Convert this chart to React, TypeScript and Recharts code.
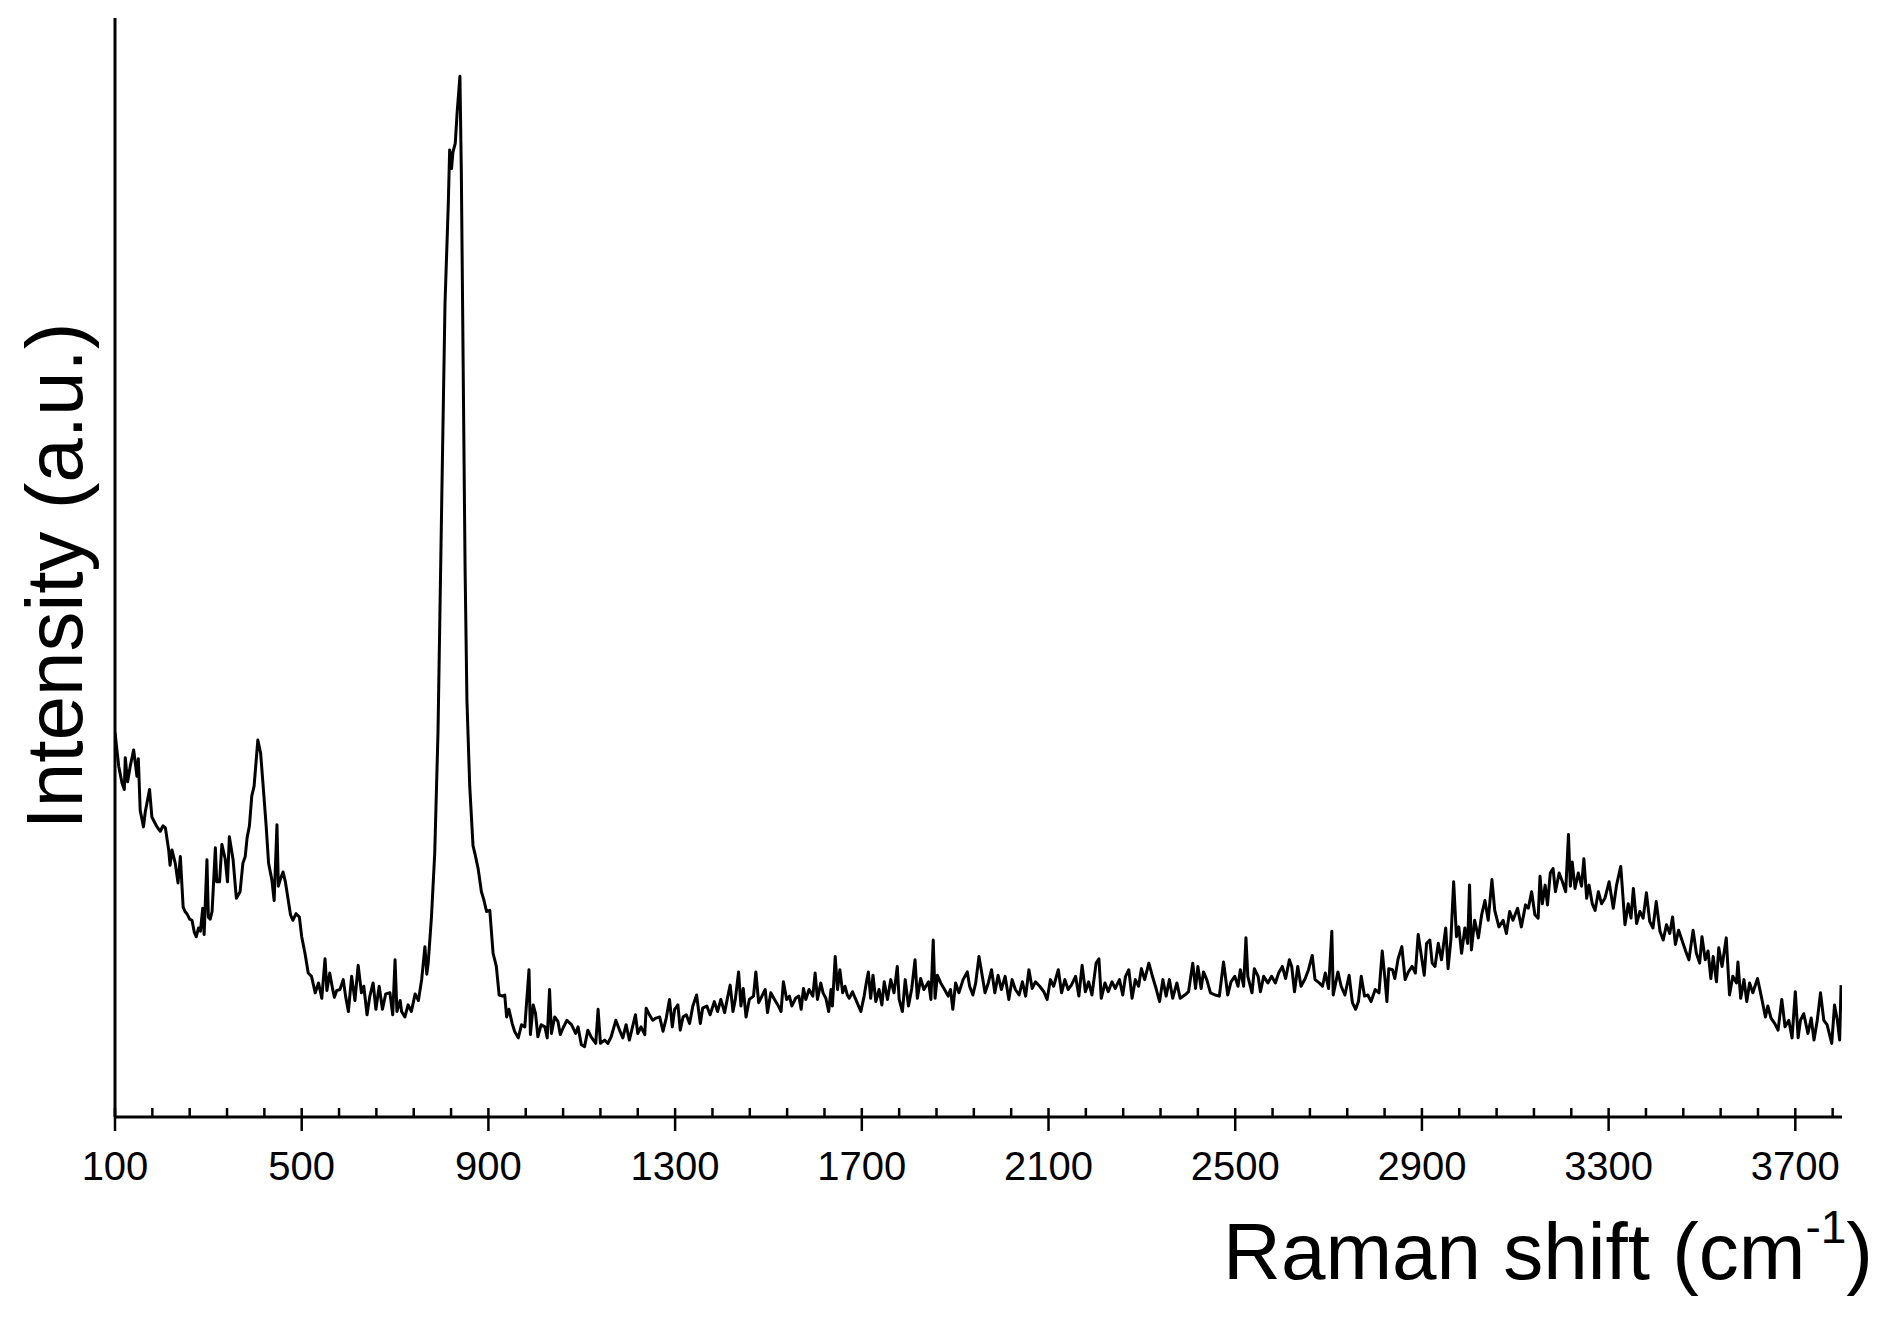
import { LineChart, Line, XAxis, YAxis, Label } from 'recharts';

const FONT = 'Arial, "Liberation Sans", Helvetica, sans-serif';

// low-frequency region, 100-778 cm-1
const shiftLow = [
  100, 108, 115, 120, 122, 127, 133, 140, 147, 150,
  154, 161, 165, 174, 179, 185, 190, 197, 203, 208,
  215, 218, 222, 229, 235, 240, 246, 250, 254, 260,
  265, 270, 274, 279, 283, 288, 291, 297, 300, 304,
  308, 315, 318, 324, 329, 336, 341, 345, 353, 360,
  368, 374, 379, 383, 388, 393, 398, 406, 412, 418,
  424, 429, 436, 441, 447, 450, 454, 460, 465, 472,
  476, 481, 488, 495, 500, 507, 514, 521, 529, 536,
  543, 550, 554, 560, 566, 570, 575, 582, 589, 594,
  600, 607, 614, 621, 628, 633, 640, 646, 653, 659,
  666, 673, 680, 689, 695, 700, 704, 711, 714, 721,
  728, 735, 743, 750, 757, 764, 768, 771, 778,
];
const intensityLow = [
  35.0, 31.9, 30.4, 29.8, 32.7, 30.5, 32.0, 33.4, 31.0, 32.6,
  27.9, 26.4, 27.8, 29.8, 27.3, 26.8, 26.4, 26.0, 26.5, 26.3,
  24.3, 22.9, 24.3, 23.1, 21.3, 23.7, 19.1, 18.7, 18.5, 18.0,
  17.9, 16.8, 16.4, 17.2, 16.9, 19.0, 16.6, 23.4, 18.2, 18.0,
  18.7, 24.5, 21.4, 21.4, 24.8, 23.5, 21.4, 25.5, 23.4, 19.9,
  20.5, 23.1, 23.7, 25.4, 26.5, 29.2, 30.1, 34.3, 33.1, 29.8,
  26.4, 23.1, 21.6, 19.7, 26.6, 21.0, 21.6, 22.3, 21.4, 19.5,
  18.4, 17.9, 18.5, 18.2, 16.4, 14.9, 13.1, 12.8, 11.3, 12.2,
  10.8, 14.4, 11.5, 13.1, 11.7, 10.9, 11.5, 11.6, 12.5, 11.0,
  9.6, 12.8, 10.6, 13.8, 11.3, 11.9, 9.3, 11.0, 12.2, 9.8,
  11.9, 9.8, 11.2, 11.3, 9.3, 14.3, 9.6, 10.6, 9.6, 9.1,
  10.2, 9.6, 11.2, 10.6, 12.5, 15.5, 13.0, 14.0, 18.2,
];

// main band around 840 cm-1
const shiftPeak = [
  785, 792, 800, 807, 814, 817, 821, 824, 829, 833,
  839, 842, 846, 850, 854, 860, 867, 872, 878, 885,
  890, 896,
];
const intensityPeak = [
  24.0, 35.0, 56.0, 74.0, 83.0, 88.0, 86.3, 87.8, 88.6, 91.4,
  94.7, 86.0, 68.0, 50.0, 37.9, 30.1, 24.7, 23.8, 22.6, 20.5,
  19.8, 18.7,
];

// 903-1669 cm-1
const shiftMidA = [
  903, 910, 917, 923, 930, 935, 939, 944, 951, 956,
  964, 971, 978, 987, 990, 996, 1001, 1006, 1013, 1021,
  1026, 1031, 1035, 1042, 1049, 1054, 1060, 1068, 1078, 1087,
  1092, 1099, 1106, 1113, 1120, 1130, 1135, 1140, 1149, 1156,
  1163, 1173, 1181, 1188, 1195, 1202, 1215, 1220, 1227, 1235,
  1238, 1245, 1252, 1259, 1267, 1274, 1281, 1288, 1294, 1299,
  1306, 1311, 1317, 1324, 1331, 1338, 1346, 1354, 1359, 1368,
  1375, 1384, 1391, 1398, 1406, 1413, 1418, 1424, 1429, 1436,
  1441, 1446, 1452, 1459, 1468, 1473, 1479, 1486, 1493, 1498,
  1505, 1513, 1520, 1527, 1532, 1539, 1545, 1550, 1558, 1565,
  1570, 1575, 1580, 1587, 1595, 1600, 1605, 1612, 1617, 1623,
  1629, 1634, 1637, 1643, 1648, 1653, 1659, 1664, 1669,
];
const intensityMidA = [
  18.8, 14.9, 13.7, 11.1, 11.0, 11.1, 9.1, 9.8, 8.5, 7.8,
  7.2, 8.4, 8.2, 13.4, 7.5, 10.2, 9.4, 7.3, 8.4, 8.2,
  7.2, 11.6, 7.6, 9.1, 8.7, 7.5, 8.1, 8.8, 8.4, 7.6,
  8.2, 6.6, 6.4, 7.9, 7.3, 6.7, 9.8, 6.7, 7.0, 6.7,
  7.3, 8.8, 7.9, 7.2, 8.4, 7.0, 9.3, 7.6, 8.2, 7.5,
  9.9, 9.3, 8.8, 9.0, 9.1, 7.8, 9.0, 10.7, 8.2, 9.8,
  10.2, 7.9, 9.1, 9.3, 8.5, 10.1, 11.1, 8.5, 9.9, 10.1,
  9.3, 10.5, 9.6, 10.7, 9.5, 11.0, 12.0, 9.6, 10.7, 13.2,
  10.1, 11.7, 9.1, 10.7, 11.0, 13.2, 10.4, 11.0, 11.6, 9.5,
  11.3, 10.7, 10.2, 9.6, 12.3, 10.7, 11.0, 10.1, 10.8, 11.0,
  9.8, 11.7, 10.7, 11.6, 11.0, 13.1, 10.7, 12.2, 11.3, 10.8,
  9.6, 11.6, 10.1, 14.6, 11.6, 13.4, 11.3, 11.9, 11.1,
];

// 1673-2457 cm-1
const shiftMidB = [
  1673, 1680, 1687, 1698, 1705, 1710, 1714, 1719, 1724, 1730,
  1737, 1743, 1748, 1755, 1762, 1769, 1776, 1780, 1787, 1793,
  1800, 1807, 1814, 1819, 1826, 1833, 1843, 1848, 1853, 1857,
  1862, 1869, 1876, 1885, 1890, 1895, 1901, 1908, 1917, 1926,
  1931, 1938, 1944, 1951, 1957, 1964, 1971, 1978, 1985, 1992,
  1999, 2007, 2015, 2022, 2029, 2037, 2044, 2051, 2058, 2065,
  2072, 2081, 2090, 2097, 2104, 2111, 2121, 2128, 2135, 2142,
  2149, 2158, 2165, 2172, 2179, 2186, 2193, 2202, 2208, 2213,
  2221, 2228, 2236, 2243, 2252, 2259, 2265, 2272, 2279, 2286,
  2293, 2299, 2306, 2315, 2322, 2329, 2338, 2345, 2352, 2359,
  2366, 2375, 2382, 2392, 2400, 2409, 2415, 2420, 2427, 2432,
  2439, 2447, 2457,
];
const intensityMidB = [
  10.8, 11.4, 10.7, 9.6, 11.0, 12.3, 13.2, 10.8, 12.9, 10.5,
  11.6, 10.2, 12.3, 10.7, 12.5, 11.3, 13.7, 10.7, 9.6, 12.5,
  10.1, 11.7, 14.3, 10.8, 12.6, 11.6, 12.3, 10.7, 16.1, 10.8,
  12.9, 12.2, 11.7, 11.0, 11.6, 9.8, 12.2, 11.3, 12.5, 13.2,
  11.9, 11.1, 12.2, 14.6, 13.1, 11.3, 12.2, 13.4, 11.3, 12.9,
  11.6, 12.8, 10.7, 12.5, 11.6, 11.1, 12.3, 11.0, 13.4, 11.7,
  12.3, 11.9, 11.4, 10.7, 12.5, 11.9, 13.4, 11.3, 12.5, 11.6,
  12.0, 12.8, 11.0, 13.8, 11.4, 12.3, 11.1, 14.0, 14.4, 10.8,
  12.2, 11.4, 12.3, 11.7, 12.5, 11.1, 12.8, 13.4, 10.8, 12.5,
  11.9, 13.5, 12.5, 14.0, 12.9, 11.9, 10.5, 12.5, 11.0, 12.5,
  10.8, 12.2, 10.8, 11.1, 11.4, 14.0, 11.7, 13.7, 11.7, 13.2,
  12.5, 11.3, 11.1,
];

// 2466-3122 cm-1
const shiftHigh = [
  2466, 2475, 2484, 2491, 2499, 2506, 2511, 2518, 2523, 2527,
  2536, 2541, 2549, 2554, 2561, 2570, 2578, 2586, 2593, 2601,
  2608, 2616, 2621, 2627, 2634, 2641, 2650, 2657, 2665, 2671,
  2680, 2687, 2693, 2700, 2707, 2710, 2720, 2727, 2735, 2744,
  2751, 2758, 2764, 2770, 2777, 2784, 2791, 2800, 2808, 2815,
  2821, 2825, 2829, 2837, 2842, 2849, 2857, 2864, 2871, 2879,
  2886, 2892, 2898, 2905, 2910, 2917, 2922, 2928, 2935, 2942,
  2951, 2956, 2962, 2968, 2974, 2979, 2985, 2992, 2998, 3002,
  3006, 3013, 3021, 3028, 3035, 3042, 3050, 3056, 3065, 3074,
  3081, 3088, 3095, 3105, 3113, 3122,
];
const intensityHigh = [
  11.0, 14.1, 11.1, 12.3, 12.8, 11.9, 13.4, 11.9, 16.3, 12.8,
  11.3, 13.5, 12.8, 11.4, 12.8, 12.2, 12.8, 12.2, 13.1, 13.7,
  12.6, 14.3, 13.7, 11.4, 13.7, 11.9, 12.6, 13.4, 14.7, 12.5,
  12.2, 11.9, 13.1, 11.7, 16.9, 11.1, 13.2, 11.9, 11.1, 12.9,
  10.4, 9.8, 10.5, 12.8, 11.0, 11.1, 10.5, 11.6, 11.3, 15.1,
  12.5, 10.5, 13.5, 13.4, 12.6, 14.4, 15.5, 12.5, 13.2, 13.7,
  13.1, 16.6, 14.9, 12.9, 15.8, 16.1, 14.0, 13.7, 15.8, 14.3,
  17.2, 13.5, 16.1, 21.4, 16.4, 17.3, 14.9, 17.2, 15.8, 21.1,
  15.2, 17.9, 16.3, 18.4, 19.7, 17.9, 21.6, 18.8, 17.3, 17.9,
  16.7, 18.7, 17.9, 19.0, 17.3, 19.3,
];

// O-H stretching band, 3128-3798 cm-1
const shiftOH = [
  3128, 3135, 3142, 3149, 3153, 3158, 3164, 3169, 3175, 3181,
  3186, 3194, 3201, 3208, 3214, 3218, 3222, 3228, 3235, 3242,
  3247, 3253, 3258, 3265, 3271, 3278, 3285, 3292, 3301, 3310,
  3317, 3326, 3335, 3342, 3348, 3353, 3360, 3367, 3374, 3381,
  3388, 3395, 3402, 3410, 3417, 3424, 3431, 3437, 3443, 3450,
  3457, 3465, 3472, 3481, 3488, 3495, 3500, 3507, 3513, 3519,
  3524, 3531, 3536, 3543, 3552, 3559, 3566, 3574, 3577, 3583,
  3590, 3596, 3602, 3609, 3619, 3627, 3636, 3641, 3648, 3656,
  3663, 3671, 3678, 3686, 3693, 3700, 3706, 3711, 3718, 3727,
  3734, 3740, 3747, 3754, 3761, 3768, 3778, 3784, 3790, 3795,
  3798,
];
const intensityOH = [
  19.0, 20.5, 18.4, 18.1, 21.9, 19.4, 21.1, 19.3, 22.2, 22.6,
  20.5, 22.2, 21.4, 20.5, 25.7, 21.0, 23.2, 20.8, 22.2, 21.0,
  23.5, 19.9, 21.1, 19.4, 18.8, 20.5, 19.4, 19.9, 21.4, 19.0,
  21.1, 22.8, 17.5, 19.4, 18.1, 20.8, 17.6, 18.7, 18.1, 20.4,
  17.8, 17.2, 19.6, 16.9, 16.1, 17.5, 16.7, 18.2, 15.7, 17.0,
  16.1, 15.1, 14.3, 17.0, 14.9, 14.0, 16.4, 14.3, 15.1, 12.6,
  14.6, 12.3, 15.4, 13.7, 16.3, 11.1, 12.8, 12.2, 14.1, 10.8,
  12.5, 10.5, 12.2, 11.3, 12.6, 11.0, 9.1, 10.1, 9.0, 8.5,
  7.9, 10.7, 8.2, 8.8, 7.2, 11.4, 7.2, 8.8, 9.4, 7.6,
  9.0, 7.0, 8.8, 11.3, 8.8, 8.4, 6.7, 10.2, 8.8, 7.0,
  12.0,
];

const majorTicks = [100, 500, 900, 1300, 1700, 2100, 2500, 2900, 3300, 3700];
const minorTicks = [
  180, 260, 340, 420, 580, 660, 740, 820, 980, 1060, 1140, 1220,
  1380, 1460, 1540, 1620, 1780, 1860, 1940, 2020, 2180, 2260, 2340, 2420,
  2580, 2660, 2740, 2820, 2980, 3060, 3140, 3220, 3380, 3460, 3540, 3620, 3780,
];
const allTicks = [...majorTicks, ...minorTicks].sort((a, b) => a - b);

const segments: [number[], number[]][] = [
  [shiftLow, intensityLow],
  [shiftPeak, intensityPeak],
  [shiftMidA, intensityMidA],
  [shiftMidB, intensityMidB],
  [shiftHigh, intensityHigh],
  [shiftOH, intensityOH],
];
const spectrum = segments.flatMap(([xs, ys]) =>
  xs.map((shift, i) => ({ shift, intensity: ys[i] })),
);

function ShiftTick(props: any) {
  const { x, y, payload } = props;
  const major = majorTicks.includes(payload.value);
  return (
    <g>
      <line x1={x} x2={x} y1={y - 9} y2={major ? y + 14 : y} stroke="#000" strokeWidth={2.5} />
      {major && (
        <text x={x} y={y + 63} textAnchor="middle" fontSize={40} fontFamily={FONT} fill="#000">
          {payload.value}
        </text>
      )}
    </g>
  );
}

function XTitle() {
  return (
    <text x={1865} y={1271} textAnchor="end" fontSize={80} fontFamily={FONT} fill="#000">
      Raman shift (cm
      <tspan fontSize={46} dy={-36}>-1</tspan>
      <tspan dy={36}>)</tspan>
    </text>
  );
}

function YTitle() {
  return (
    <text
      x={74}
      y={568}
      transform="rotate(-90 74 568)"
      textAnchor="middle"
      fontSize={80}
      fontFamily={FONT}
      fill="#000"
    >
      Intensity (a.u.)
    </text>
  );
}

export default function App() {
  return (
    <LineChart
      width={1876}
      height={1300}
      data={spectrum}
      margin={{ top: 10, right: 42, bottom: 0, left: 0 }}
    >
      <XAxis
        type="number"
        dataKey="shift"
        domain={[100, 3800]}
        ticks={allTicks}
        interval={0}
        tickSize={0}
        tickMargin={0}
        tickLine={false}
        tick={ShiftTick}
        axisLine={{ stroke: '#000', strokeWidth: 3 }}
        height={191}
        allowDataOverflow
      >
        <Label content={XTitle} />
      </XAxis>
      <YAxis
        type="number"
        domain={[0, 100]}
        width={107}
        tick={false}
        tickLine={false}
        axisLine={{ stroke: '#000', strokeWidth: 3 }}
      >
        <Label content={YTitle} />
      </YAxis>
      <Line
        type="linear"
        dataKey="intensity"
        stroke="#000"
        strokeWidth={3}
        strokeLinejoin="round"
        dot={false}
        isAnimationActive={false}
      />
    </LineChart>
  );
}
